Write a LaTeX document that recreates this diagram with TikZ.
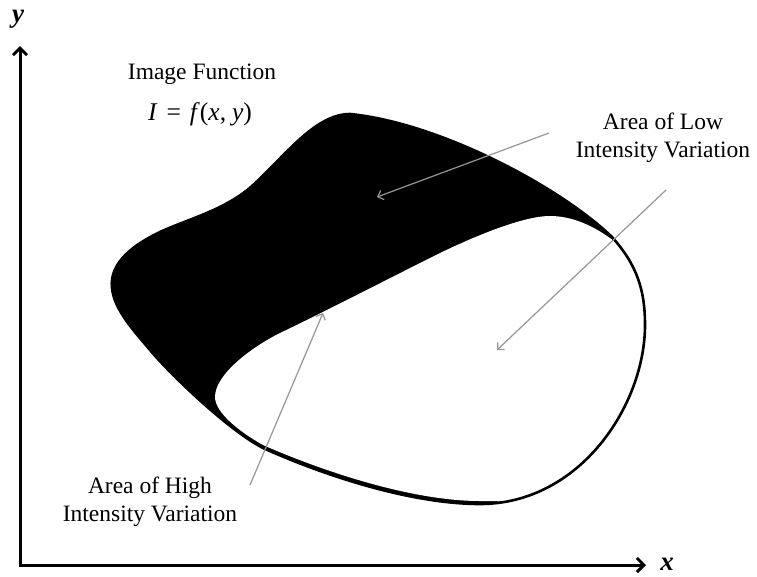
\documentclass[tikz,border=0pt]{standalone}
\usepackage{fontspec}
\setmainfont{Liberation Serif}
\usetikzlibrary{arrows.meta}
\definecolor{pointer}{RGB}{150,150,150}
\tikzset{
  lbl/.style={font=\fontsize{23.5}{28.5}\selectfont, align=center, inner sep=0pt},
  funclbl/.style={font=\fontsize{25.5}{28}\selectfont, inner sep=0pt},
  axislbl/.style={font=\fontsize{27}{28}\selectfont\bfseries\itshape, inner sep=0pt},
  axis/.style={line width=3, line join=miter, {Straight Barb[length=7pt,width=14pt]}-{Straight Barb[length=7pt,width=14pt]}},
  pointerline/.style={draw=pointer, line width=1.2, -{Straight Barb[length=5pt,width=10pt]}},
}
\begin{document}
\begin{tikzpicture}[x=1pt,y=-1pt]
\useasboundingbox (0,0) rectangle (757,576);
% axes
\coordinate (Ytip) at (20,46);
\coordinate (O) at (20,565);
\coordinate (Xtip) at (646,565);
\draw[axis] (Ytip) -- (O) -- (Xtip);
\node[axislbl] (ylab) at (18,19) {y};
\node[axislbl] (xlab) at (667,564) {x};
% shape outline
\def\outerpath{(112,288)
  .. controls (109,262) and (135,244) .. (160,232)
  .. controls (188,219) and (225,210) .. (252,186)
  .. controls (285,156) and (315,114) .. (350,114)
  .. controls (440,123) and (560,187) .. (612,237)
  .. controls (637,265) and (645,290) .. (645,325)
  .. controls (645,405) and (580,504) .. (480,504)
  .. controls (410,504) and (323,475) .. (263,448)
  .. controls (228,430) and (169,373) .. (150,350)
  .. controls (135,332) and (114,310) .. cycle}
\fill[black] \outerpath;
\begin{scope}
  \clip \outerpath;
  \fill[white] (620,246)
    .. controls (606,234) and (580,216) .. (550,216)
    .. controls (520,216) and (465,241) .. (440,253)
    .. controls (390,278) and (320,314) .. (280,333)
    .. controls (250,348) and (215,375) .. (215,397)
    .. controls (215,412) and (238,431) .. (263,445)
    .. controls (320,470) and (410,501) .. (480,501)
    .. controls (560,501) and (640,520) .. (700,420)
    -- (700,300) -- (642,268) -- cycle;
\end{scope}
\draw[line width=2.6] \outerpath;
% texts
\node[lbl] (title) at (202,74) {Image Function};
\node[funclbl] (func) at (200,114) {\textit{I}\hspace{9pt}=\hspace{9pt}\textit{f}(\textit{x},\hspace{6pt}\textit{y})};
\node[lbl] (low) at (663,138) {Area of Low\\Intensity Variation};
\node[lbl] (high) at (150,502) {Area of High\\Intensity Variation};
% pointers
\coordinate (l1s) at (549,133);
\coordinate (l1e) at (377,197);
\coordinate (l2s) at (666,190);
\coordinate (l2e) at (497,350);
\coordinate (h1s) at (250,485);
\coordinate (h1e) at (323,313);
\draw[pointerline] (l1s) -- (l1e);
\draw[pointerline] (l2s) -- (l2e);
\draw[pointerline] (h1s) -- (h1e);
\end{tikzpicture}
\end{document}
